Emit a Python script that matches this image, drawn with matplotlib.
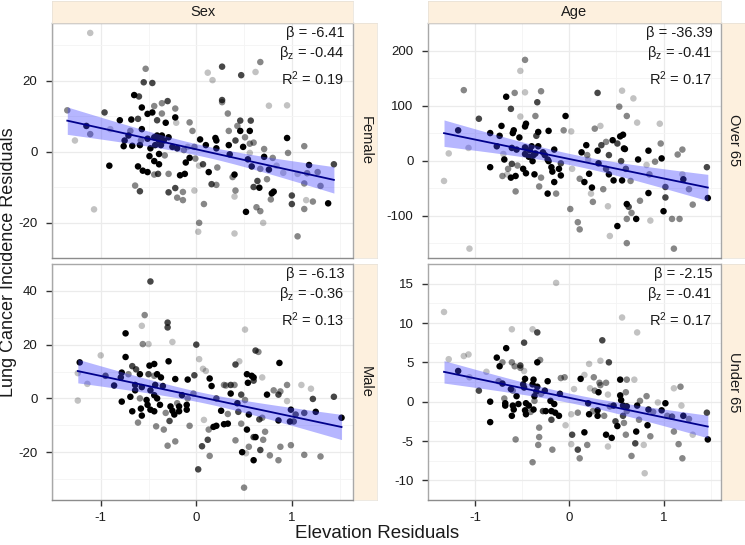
import numpy as np
import matplotlib
matplotlib.use("Agg")
import matplotlib.pyplot as plt

plt.rcParams['font.family'] = ['Liberation Sans', 'DejaVu Sans']
plt.rcParams['mathtext.fontset'] = 'custom'
plt.rcParams['mathtext.rm'] = 'Liberation Sans'
plt.rcParams['mathtext.it'] = 'Liberation Sans:italic'

# ---------------- data ----------------
# shade codes: k = black, d = dark, m = medium, l = light
fem_x = [-1.11,0.27,0.67,0.12,0.17,0.47,0.62,-0.53,-0.55,-0.46,
         -0.65,-0.60,-0.30,-0.36,-0.57,-0.44,0.27,0.27,0.76,0.95,
         -1.35,-0.96,-0.80,-0.68,-0.61,-0.51,-0.46,-0.36,-0.22,-0.21,
         -0.41,-0.32,-0.07,-0.04,0.33,0.46,0.57,0.46,0.56,0.34,
         0.43,-1.15,-1.11,-1.27,-0.90,-0.69,-0.71,-0.75,-0.76,-0.67,
         -0.59,-0.57,-0.51,-0.58,-0.44,-0.41,-0.36,-0.34,-0.39,-0.43,
         -0.48,-0.37,-0.29,-0.25,-0.20,-0.49,-0.39,-0.44,-0.39,-0.33,
         -0.13,-0.09,-0.11,-0.07,-0.02,0.04,0.10,0.20,0.21,0.21,
         0.34,0.41,0.49,0.35,0.51,0.56,0.60,0.71,0.71,0.80,
         0.56,0.54,0.58,0.95,0.96,1.13,1.18,1.44,1.27,1.16,
         1.06,0.91,0.84,0.76,0.67,0.74,0.64,0.66,0.60,0.81,
         0.79,0.78,1.00,1.00,1.13,1.30,1.15,1.22,1.38,1.13,
         1.06,0.70,0.67,0.63,0.52,0.40,0.41,0.38,0.40,0.22,
         0.21,0.16,0.13,0.07,0.03,-0.01,0.08,0.03,0.02,0.40,
         -0.02,-0.14,-0.20,-0.22,-0.14,-0.29,-0.12,-0.17,-0.29,-0.40,
         -0.44,-0.51,-0.56,-0.61,-0.64,-0.59,-0.91,-1.07,-0.22]
fem_y = [33.4,23.9,25.2,22.2,20.1,21.5,22.4,23.3,19.5,19.3,
         15.9,15.5,14.2,13.6,12.4,12.8,14.5,13.9,12.9,13.0,
         11.6,11.0,8.8,9.0,9.2,10.6,11.0,10.7,9.6,8.1,
         8.8,8.1,8.2,5.8,10.7,8.7,8.7,5.8,5.8,5.8,
         7.2,7.2,4.9,3.1,6.3,5.8,4.5,3.1,1.5,1.6,
         1.8,6.3,3.6,3.1,4.0,4.5,4.5,3.1,3.1,1.8,
         0.9,1.8,4.0,1.3,0.9,-1.3,-0.7,-2.7,-3.6,-1.1,
         0.4,1.3,-3.1,-1.8,1.3,3.4,1.8,3.8,3.1,0.9,
         1.8,3.1,1.3,-0.8,4.0,2.2,2.5,0.7,-1.5,-1.8,
         -0.4,-2.2,-4.2,3.8,-0.4,1.5,-3.8,-3.6,-5.8,-6.1,
         -6.3,-6.0,-4.0,-5.1,-4.9,-7.8,-8.3,-10.2,-10.0,-11.3,
         -11.8,-13.5,-12.4,-14.8,-9.0,-9.7,-13.7,-14.1,-14.6,-16.2,
         -23.9,-20.1,-16.8,-15.7,-17.0,-12.7,-11.0,-7.2,-6.5,-4.5,
         -9.4,-9.2,-5.8,-3.6,-4.0,-2.0,-14.8,-20.1,-22.6,-23.1,
         -11.0,-13.7,-13.0,-10.3,-11.4,-11.5,-6.3,-6.7,-6.3,-6.3,
         -6.5,-5.8,-5.4,-4.2,-9.6,-11.2,-4.0,-16.3,12.1]
fem_shade = ("ldmlldlmdd" "kddmkmdmll" "mdkkdkkmkl" "dkmmmddkkm" "mkmllmkkkk"
             "kkkmkkkkkk" "kkkkkkkkkm" "mlkkmkkkkk" "kdkkmmmmkm" "lkkkmmkdmm"
             "lllkmmdkdk" "kmddmmlmkm" "mlmmklmmkm" "mdkdlmmmll" "lmmdmdkkmd"
             "mkkkmdklm")

old_x = [-1.33,-1.28,-1.18,-1.12,-1.07,-1.06,-0.96,-0.84,-0.84,-0.77,
         -0.74,-0.72,-0.69,-0.67,-0.70,-0.66,-0.62,-0.61,-0.60,-0.59,
         -0.58,-0.57,-0.57,-0.62,-0.61,-0.56,-0.55,-0.53,-0.52,-0.52,
         -0.47,-0.47,-0.47,-0.46,-0.47,-0.47,-0.49,-0.46,-0.43,-0.42,
         -0.40,-0.39,-0.38,-0.36,-0.37,-0.35,-0.33,-0.34,-0.33,-0.30,
         -0.36,-0.32,-0.30,-0.28,-0.26,-0.23,-0.23,-0.22,-0.19,-0.18,
         -0.16,-0.22,-0.16,-0.14,-0.11,-0.09,-0.09,-0.06,-0.04,0.02,
         0.01,0.03,0.09,0.11,0.11,0.13,0.16,0.18,0.19,0.20,
         0.21,0.23,0.24,0.25,0.27,0.30,0.30,0.31,0.33,0.34,
         0.36,0.39,0.39,0.41,0.42,0.42,0.43,0.46,0.47,0.51,
         0.51,0.53,0.54,0.55,0.56,0.57,0.58,0.59,0.56,0.60,
         0.61,0.61,0.63,0.66,0.61,0.61,0.65,0.68,0.71,0.72,
         0.73,0.75,0.84,0.84,0.85,0.82,0.86,0.91,0.96,0.98,
         0.97,1.00,1.02,1.02,1.09,1.11,1.15,1.17,1.20,1.21,
         1.20,1.27,1.31,1.46,1.47,-0.71,-0.65]
old_y = [-37,13,55,128,23,-160,76,50,-12,26,
         45,63,2,116,12,-25,94,23,50,55,
         123,-56,-28,-31,-6,20,-9,42,80,163,
         183,124,62,67,24,12,-15,-23,7,19,
         26,-1,10,13,-25,45,26,106,52,126,
         81,-47,-31,15,10,2,-60,-1,-12,-20,
         -39,54,20,-60,-15,-27,-5,55,81,53,
         -88,-15,-112,-125,-33,15,-39,28,10,2,
         -24,-60,-49,-75,58,123,18,-5,63,28,
         -52,34,-15,-83,10,-25,-137,37,-36,31,
         -119,98,44,-1,127,47,22,21,-36,-15,
         81,-79,-84,-95,-106,-150,-37,113,-106,69,
         2,-73,-59,18,-25,-8,-109,-2,67,4,
         31,-92,-48,-67,-106,-160,11,-106,20,-34,
         -25,-52,-80,-12,-68,-28,-15]
old_shade = ("llkmlldkkk" "kkkklldkkk" "mmkkdkmkll" "mlkkkkkkkk" "kkkkkdkdkm"
             "mmmkkkkkkk" "kkkmkkdmkl" "mlmmmkkkml" "klkmmdkkld" "mmdldklkkd"
             "kmkdlkkkkd" "mkdmmmmlkl" "kmkkmllmlk" "mkddmmmmmk" "lmmdkmm")

male_x = [-0.48,-0.54,-0.57,-0.30,-0.30,-0.74,-0.56,-0.50,-0.25,0.00,
          0.51,0.62,0.65,-1.00,-1.22,-1.24,-1.14,-1.24,-0.95,-0.86,
          -0.79,-0.78,-0.74,-0.67,-0.71,-0.63,-0.59,-0.64,-0.64,-0.69,
          -0.78,-0.67,-0.61,-0.58,-0.57,-0.59,-0.57,-0.50,-0.49,-0.44,
          -0.44,-0.41,-0.43,-0.37,-0.35,-0.48,-0.44,-0.52,-0.51,-0.48,
          -0.44,-0.41,-0.38,-0.32,-0.42,-0.34,-0.30,-0.22,-0.29,-0.27,
          -0.25,-0.23,-0.28,-0.22,-0.18,-0.18,-0.20,-0.15,-0.10,-0.09,
          -0.10,-0.09,-0.07,-0.02,-0.03,0.03,0.07,0.10,0.02,0.08,
          0.13,0.12,0.06,0.14,0.14,0.16,0.21,0.26,0.18,0.21,
          0.29,0.33,0.29,0.31,0.36,0.36,0.40,0.41,0.45,0.43,
          0.44,0.47,0.41,0.47,0.53,0.48,0.50,0.51,0.53,0.54,
          0.58,0.60,0.55,0.55,0.52,0.60,0.60,0.62,0.60,0.66,
          0.69,0.67,0.70,0.72,0.74,0.77,0.81,0.86,0.86,0.87,
          0.86,0.88,0.88,0.95,0.95,0.99,0.99,0.98,1.02,1.04,
          1.10,1.13,1.13,1.20,1.22,1.25,1.30,1.44,1.52,0.69,0.33]
male_y = [43.5,31.0,27.0,28.2,26.4,24.2,20.2,20.2,21.0,20.0,
          25.6,17.8,17.3,16.0,13.4,9.4,5.4,-0.8,8.4,4.8,
          7.8,9.6,15.4,12.0,9.0,10.8,9.0,5.0,3.0,0.6,
          -1.2,-4.8,-9.0,-3.8,-6.4,0.0,4.2,9.0,12.2,12.8,
          8.4,9.0,5.0,7.8,4.6,3.0,1.2,-0.6,-2.4,-4.2,
          -4.8,0.0,-2.4,-5.4,-10.4,-11.6,-17.6,-16.0,13.8,-3.0,
          -4.6,-6.0,-8.4,7.2,-3.0,-4.8,-1.8,1.2,-2.4,0.0,
          -4.2,7.0,-10.2,8.6,1.8,14.6,11.0,10.2,-26.4,-8.0,
          -11.6,-15.4,-17.8,-21.4,7.4,4.6,0.0,-4.6,-10.6,-10.2,
          -9.6,-9.4,5.0,4.8,1.8,5.0,5.0,12.6,13.8,-1.8,
          -5.0,1.4,-15.6,-9.4,-11.6,-20.0,-33.2,-0.6,9.0,5.8,
          8.4,7.8,-6.0,-18.0,-20.4,6.6,-14.4,-14.4,-23.0,-7.8,
          7.8,-19.2,-15.4,-12.4,1.4,-21.2,3.0,1.4,-8.2,13.2,
          -23.0,2.6,-18.0,5.0,-1.0,-4.2,-17.4,-8.6,-8.6,-6.0,
          5.0,-5.4,-21.0,3.6,-0.2,-5.0,-21.6,0.6,-7.2,-7.2,-5.8]
male_shade = ("dmlddkmlld" "ldmlkllldk" "kkkdmdkkkk" "kkmkkmkdkk" "mkkkkkkkkk"
              "kkkmmmmmkk" "kkdkkkmkkm" "kkmdmllldl" "mddmkkdkkk" "kkmmkdmdlk"
              "ddmmkkmmkk" "kkkmlddkkd" "ldmmkmmdkk" "mmmmlkmkdd" "ldmldkmdkmm")

young_x = [-1.33,-1.28,-1.18,-1.12,-1.07,-1.06,-0.96,-0.88,-0.84,-0.84,
           -0.77,-0.74,-0.75,-0.71,-0.71,-0.69,-0.67,-0.68,-0.68,-0.61,
           -0.61,-0.62,-0.61,-0.60,-0.60,-0.59,-0.58,-0.57,-0.56,-0.54,
           -0.52,-0.52,-0.49,-0.48,-0.48,-0.48,-0.47,-0.47,-0.46,-0.46,
           -0.43,-0.41,-0.39,-0.39,-0.39,-0.38,-0.37,-0.38,-0.37,-0.35,
           -0.34,-0.34,-0.34,-0.32,-0.32,-0.33,-0.31,-0.30,-0.28,-0.26,
           -0.25,-0.23,-0.20,-0.19,-0.18,-0.19,-0.16,-0.14,-0.15,-0.11,
           -0.09,-0.05,-0.10,-0.04,0.02,0.03,0.05,0.02,0.09,0.09,
           0.11,0.12,0.16,0.16,0.19,0.20,0.21,0.21,0.22,0.25,
           0.26,0.27,0.30,0.30,0.31,0.32,0.33,0.33,0.35,0.37,
           0.39,0.39,0.41,0.41,0.42,0.43,0.45,0.47,0.49,0.51,
           0.54,0.54,0.55,0.57,0.57,0.58,0.60,0.61,0.61,0.61,
           0.60,0.56,0.66,0.69,0.72,0.71,0.70,0.72,0.74,0.75,
           0.79,0.80,0.82,0.84,0.83,0.86,0.89,0.94,0.98,1.02,
           1.04,1.09,1.11,1.11,1.16,1.18,1.19,1.21,1.20,1.27,
           1.31,1.46,1.47]
young_y = [11.4,5.4,3.9,5.8,6.0,3.1,1.4,3.8,-2.6,0.0,
           5.6,4.5,2.6,5.0,2.3,0.4,6.8,-0.2,-0.5,9.2,
           5.0,1.6,-1.8,1.4,-0.5,-1.0,4.5,-4.8,0.7,-0.3,
           4.6,4.3,2.2,7.5,3.9,1.8,2.9,-1.1,-1.6,-0.2,
           -0.5,-1.3,9.2,-7.7,2.2,2.8,0.7,-1.0,0.1,1.3,
           8.8,5.0,1.9,-3.3,-4.5,-5.5,5.3,1.0,-1.2,1.4,
           -1.2,2.6,0.1,-1.2,-6.1,-2.3,-0.3,15.1,-1.4,-1.8,
           3.0,3.1,1.0,-3.0,-1.6,-4.2,1.6,-5.4,-1.4,-6.1,
           -7.2,2.9,3.4,-3.9,-5.5,-0.2,4.8,-1.6,1.7,-1.2,
           3.1,1.4,-1.1,-1.8,1.2,2.4,2.1,5.2,7.8,-1.8,
           2.4,-4.2,0.9,-5.7,5.0,-0.6,-4.6,-0.5,-2.5,-3.1,
           0.8,2.8,0.2,-0.5,-1.8,-2.7,-4.2,2.8,-0.6,-1.2,
           1.2,10.7,-6.9,2.8,-0.5,-3.8,-5.3,8.8,-2.3,0.1,
           -5.5,-9.1,0.7,-1.0,-3.0,-4.4,-1.3,-0.1,-1.1,-0.2,
           -1.8,-1.9,-3.8,1.7,-5.4,1.9,-0.5,-1.8,-7.2,-2.2,
           -4.2,-1.4,-4.8]
young_shade = ("llkllldlkk" "kkmmkmkkkl" "mkkmkkmmkk" "dmkdlkkkkk" "kmlmkkkkmk"
               "dkkmmmmmdk" "kkkkmdklkk" "mmklldllmd" "mklkmklklm" "mmkkkmmldm"
               "mklldmkkdk" "kkkkdmmmkm" "mlmlkkdlmm" "llmkkmmlkk" "mdmlmmlkmm"
               "ldk")

col_titles = ["Sex", "Age"]
row_labels = ["Female", "Over 65", "Male", "Under 65"]
beta = ["-6.41", "-36.39", "-6.13", "-2.15"]
beta_z = ["-0.44", "-0.41", "-0.36", "-0.41"]
r2 = ["0.19", "0.17", "0.13", "0.17"]
x_ticks = [-1, 0, 1]
y_ticks = [[-20, 0, 20], [-100, 0, 100, 200], [-20, 0, 20, 40], [-10, -5, 0, 5, 10, 15]]

# ---------------- styling / layout ----------------
ALPHA = {'k': 1.0, 'd': 0.72, 'm': 0.47, 'l': 0.24}
W, H = 745, 545
fig = plt.figure(figsize=(W / 100, H / 100), dpi=100)


def px_axes(x0, y0, x1, y1):
    return fig.add_axes([x0 / W, 1 - y1 / H, (x1 - x0) / W, (y1 - y0) / H])


STRIP = '#FDF0DE'
panels = [
    dict(box=(52, 23, 353, 258), x=fem_x, y=fem_y, s=fem_shade,
         xlim=(-1.51, 1.64), ylim=(-26.8, 36.2), bottom=False),
    dict(box=(428, 23, 721, 258), x=old_x, y=old_y, s=old_shade,
         xlim=(-1.47, 1.61), ylim=(-177, 202), bottom=False),
    dict(box=(52, 264, 353, 500), x=male_x, y=male_y, s=male_shade,
         xlim=(-1.51, 1.64), ylim=(-37.8, 47.2), bottom=True),
    dict(box=(428, 264, 721, 500), x=young_x, y=young_y, s=young_shade,
         xlim=(-1.47, 1.61), ylim=(-10.5, 16.2), bottom=True),
]

for i, p in enumerate(panels):
    x0, y0, x1, y1 = p['box']
    ax = px_axes(x0, y0, x1, y1)
    ax.set_facecolor('white')
    ax.set_xlim(*p['xlim'])
    ax.set_ylim(*p['ylim'])
    yt = y_ticks[i]
    step = yt[1] - yt[0]
    ax.set_xticks(x_ticks)
    ax.set_yticks(yt)
    ax.set_xticks([t + 0.5 for t in [-2] + x_ticks], minor=True)
    ax.set_yticks([t + step / 2 for t in [yt[0] - step] + yt], minor=True)
    ax.grid(which='major', color='#EBEBEB', lw=0.9, zorder=0)
    ax.grid(which='minor', color='#F4F4F4', lw=0.6, zorder=0)
    ax.set_axisbelow(True)
    for name, sp in ax.spines.items():
        sp.set_color('#8C8C8C' if name == 'bottom' else '#A8A8A8')
        sp.set_linewidth(1.0)
    ax.tick_params(which='minor', length=0)
    ax.tick_params(which='major', length=4.5, width=1, color='#333333',
                   labelsize=9.5, labelcolor='#1A1A1A')
    ax.tick_params(axis='y', pad=6)
    ax.tick_params(axis='x', pad=4)
    ax.set_yticklabels([str(t) for t in yt])
    if p['bottom']:
        ax.set_xticklabels([str(t) for t in x_ticks])
    else:
        ax.tick_params(axis='x', length=0, labelbottom=False)

    x = np.asarray(p['x'], float)
    y = np.asarray(p['y'], float)
    cols = [(0, 0, 0, ALPHA[c]) for c in p['s']]
    ax.scatter(x, y, s=22, c=cols, linewidths=0, zorder=2)

    # linear fit with 95% confidence band
    n = len(x)
    b1, b0 = np.polyfit(x, y, 1)
    res = y - (b0 + b1 * x)
    sig = np.sqrt(np.sum(res ** 2) / (n - 2))
    xm = x.mean()
    sxx = np.sum((x - xm) ** 2)
    xs = np.linspace(x.min(), x.max(), 100)
    yh = b0 + b1 * xs
    se = sig * np.sqrt(1 / n + (xs - xm) ** 2 / sxx)
    ax.fill_between(xs, yh - 1.976 * se, yh + 1.976 * se, color='#4040FF',
                    alpha=0.38, lw=0, zorder=3)
    ax.plot(xs, yh, color='#00008B', lw=1.3, zorder=4)

    # stats annotation
    kw = dict(xycoords='axes fraction', textcoords='offset points',
              ha='right', va='center', fontsize=10.5, color='#1A1A1A')
    ax.annotate("β = " + beta[i], (1, 1), xytext=(-6, -7.2), **kw)
    ax.annotate(r"$\mathregular{β_z}$ = " + beta_z[i], (1, 1), xytext=(-6, -21.8), **kw)
    ax.annotate(r"R$\mathregular{^2}$ = " + r2[i], (1, 1), xytext=(-6, -40.3), **kw)

    # right strip
    sx1 = 377 if x1 < 400 else 745
    sax = px_axes(x1 + 1, y0, sx1, y1)
    sax.set_facecolor(STRIP)
    sax.set_xticks([]); sax.set_yticks([])
    for sp in sax.spines.values():
        sp.set_color('#E6E0D6'); sp.set_linewidth(0.5)
    sax.text(0.5, 0.5, row_labels[i], rotation=-90, ha='center', va='center',
             fontsize=10.5, color='#1A1A1A', transform=sax.transAxes)

    # top strip
    if i < 2:
        tax = px_axes(x0, 1, x1, y0)
        tax.set_facecolor(STRIP)
        tax.set_xticks([]); tax.set_yticks([])
        for sp in tax.spines.values():
            sp.set_color('#E6E0D6'); sp.set_linewidth(0.5)
        tax.text(0.5, 0.5, col_titles[i], ha='center', va='center',
                 fontsize=10.5, color='#1A1A1A', transform=tax.transAxes)

fig.text(9 / W, 1 - 262 / H, "Lung Cancer Incidence Residuals", rotation=90,
         ha='center', va='center', fontsize=13, color='#1A1A1A')
fig.text(377 / W, 1 - 533 / H, "Elevation Residuals", ha='center', va='center',
         fontsize=13.5, color='#1A1A1A')

fig.savefig("out.png", dpi=100)
